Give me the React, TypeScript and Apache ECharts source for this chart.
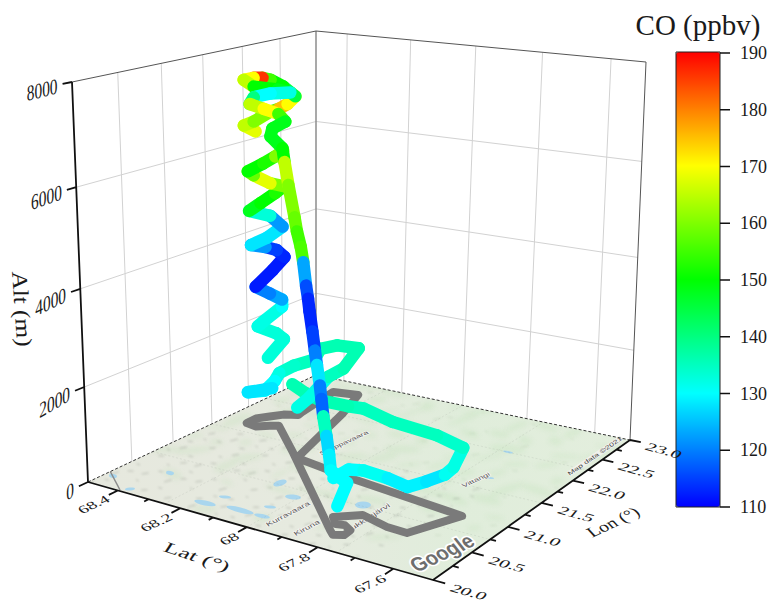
import React, { useEffect, useRef } from "react";
import * as echarts from "echarts";

// [lat, lon, alt m, CO ppbv]
const outboundLeg = [
  [67.866, 20.475, 788, 130], [67.84, 20.55, 941, 130], [67.814, 20.62, 904, 131], [67.73, 20.54, 972, 129],
  [67.674, 20.53, 910, 129], [67.655, 20.68, 915, 128], [67.637, 20.84, 936, 131], [67.628, 20.91, 1034, 132],
  [67.618, 20.99, 1372, 134], [67.696, 21.025, 1460, 135], [67.833, 21.086, 1458, 135], [67.926, 21.128, 1552, 135],
  [67.976, 21.15, 1503, 136], [68.073, 21.21, 1426, 136], [68.127, 21.24, 1481, 136], [68.174, 21.27, 1575, 136],
];
const northLeg = [
  [68.156, 21.26, 1104, 132], [68.178, 21.51, 1080, 132], [68.215, 21.94, 1166, 135], [68.246, 22.3, 1040, 136],
  [68.295, 22.75, 1120, 136], [68.36, 22.71, 1127, 136], [68.36, 22.46, 1224, 136], [68.355, 22.35, 1056, 135],
  [68.35, 22.04, 1156, 134], [68.384, 21.97, 983, 132], [68.4, 21.97, 778, 130], [68.394, 21.81, 687, 129],
  [68.42, 21.68, 709, 128], [68.35, 21.73, 868, 128],
];
const spiralLow = [
  [68.387, 21.825, 1435, 133], [68.35, 21.895, 1859, 133], [68.367, 21.863, 1992, 133], [68.409, 21.781, 2149, 132],
  [68.396, 21.806, 2260, 132], [68.354, 21.888, 2593, 130], [68.354, 21.889, 2748, 123], [68.381, 21.836, 2880, 120],
  [68.413, 21.775, 3031, 112], [68.374, 21.849, 3405, 112], [68.348, 21.899, 3690, 113], [68.365, 21.866, 3842, 115],
  [68.39, 21.818, 3907, 122], [68.422, 21.757, 3950, 128], [68.386, 21.826, 4114, 128], [68.352, 21.892, 4351, 122],
  [68.379, 21.839, 4586, 133], [68.425, 21.75, 4691, 148], [68.4, 21.799, 4860, 150], [68.368, 21.861, 5072, 152],
  [68.349, 21.898, 5220, 160], [68.378, 21.841, 5284, 168], [68.414, 21.772, 5452, 158], [68.427, 21.748, 5537, 150],
  [68.393, 21.813, 5706, 152], [68.367, 21.863, 5853, 160], [68.35, 21.896, 5979, 165],
];
const spiralHigh = [
  [68.409, 21.782, 6380, 168], [68.434, 21.734, 6504, 165], [68.413, 21.775, 6585, 160], [68.377, 21.844, 6790, 157],
  [68.359, 21.877, 6850, 175], [68.34, 21.914, 6950, 170], [68.323, 21.947, 7110, 145], [68.349, 21.898, 7310, 150],
  [68.376, 21.846, 7450, 155], [68.393, 21.813, 7490, 186], [68.412, 21.777, 7490, 170], [68.433, 21.736, 7450, 165],
  [68.412, 21.776, 7310, 150], [68.361, 21.874, 7250, 148], [68.334, 21.927, 7190, 132], [68.376, 21.845, 7170, 130],
  [68.412, 21.776, 7090, 140], [68.421, 21.759, 6950, 165], [68.391, 21.816, 6850, 170], [68.36, 21.877, 6745, 155],
  [68.345, 21.905, 6585, 148], [68.373, 21.852, 6440, 148], [68.377, 21.843, 6275, 148],
];
const descentLeg = [
  [68.3, 21.675, 6170, 150], [68.276, 21.6, 5940, 165], [68.236, 21.48, 5565, 160], [68.175, 21.3, 5055, 158],
  [68.15, 21.225, 4835, 155], [68.114, 21.12, 4620, 156], [68.089, 21.045, 4385, 123], [68.063, 20.97, 3990, 116],
  [68.043, 20.91, 3790, 113], [68.028, 20.865, 3585, 113], [68.002, 20.79, 3265, 115], [67.977, 20.715, 2970, 120],
  [67.957, 20.655, 2755, 128], [67.931, 20.58, 2445, 120], [67.916, 20.535, 2235, 118], [67.9, 20.49, 1950, 135],
  [67.87, 20.4, 1685, 127], [67.845, 20.325, 1420, 129], [67.83, 20.28, 1180, 130], [67.81, 20.3, 1060, 130],
  [67.8, 20.35, 925, 130], [67.835, 20.39, 360, 130],
];
// ground track, [lat, lon]
const groundTrack = [
  [67.838, 20.387], [67.866, 20.475], [67.814, 20.62], [67.73, 20.54], [67.674, 20.53], [67.618, 20.99],
  [67.976, 21.15], [68.156, 21.26], [68.246, 22.3], [68.295, 22.75], [68.37, 22.7], [68.347, 22.14], [68.342, 22.06],
  [68.378, 22.0], [68.401, 21.9], [68.424, 21.8], [68.423, 21.67], [68.385, 21.645], [68.358, 21.724], [68.337, 21.765],
  [68.185, 21.33], [67.83, 20.28], [67.81, 20.225], [67.787, 20.263], [67.79, 20.352], [67.817, 20.404], [67.838, 20.387],
];
const latMajor = [68.4, 68.2, 68, 67.8, 67.6];
const latMinor = [68.3, 68.1, 67.9, 67.7];
const latLabels = ["68.4", "68.2", "68", "67.8", "67.6"];
const lonMajor = [20, 20.5, 21, 21.5, 22, 22.5, 23];
const lonMinor = [20.25, 20.75, 21.25, 21.75, 22.25, 22.75];
const lonLabels = ["20.0", "20.5", "21.0", "21.5", "22.0", "22.5", "23.0"];
const altMajor = [0, 2000, 4000, 6000, 8000];
const coTicks = [110, 120, 130, 140, 150, 160, 170, 180, 190];
const coColors = ["#0000ff", "#00ffff", "#00ff00", "#ffff00", "#ff0000"];

type Pt = number[];
const makeH = (A: Pt, B: Pt, D: Pt, C: Pt) => {
  const dx1 = B[0] - C[0], dx2 = D[0] - C[0], sx = A[0] - B[0] + C[0] - D[0];
  const dy1 = B[1] - C[1], dy2 = D[1] - C[1], sy = A[1] - B[1] + C[1] - D[1];
  const den = dx1 * dy2 - dx2 * dy1;
  const g = (sx * dy2 - dx2 * sy) / den, h = (dx1 * sy - sx * dy1) / den;
  const ax = B[0] - A[0] + g * B[0], ay = B[1] - A[1] + g * B[1];
  const bx = D[0] - A[0] + h * D[0], by = D[1] - A[1] + h * D[1];
  return (s: number, t: number) => {
    const w = 1 + g * s + h * t;
    return [(A[0] + ax * s + bx * t) / w, (A[1] + ay * s + by * t) / w];
  };
};
const floorH = makeH([88, 482], [433, 580], [316, 375], [630, 440]);
const topH = makeH([72, 82], [438, 122], [316, 31], [646, 62]);
const PERSP = 0.066;
const project = (lat: number, lon: number, alt: number) => {
  const s = 68.5 - lat, t = (lon - 20) / 3;
  const f = floorH(s, t), g = topH(s, t), a = alt / 8000;
  const z = (a * (1 - PERSP)) / (1 - PERSP * a);
  return [f[0] + (g[0] - f[0]) * z, f[1] + (g[1] - f[1]) * z];
};
const GAP = [NaN, NaN];
const path = (...segs: Pt[][]) => segs.flatMap((seg, i) => (i ? [GAP, ...seg] : seg));
const lineSeries = (data: Pt[], color: string, width: number, z: number, type: any = "solid", cap: any = "butt") => ({
  type: "line", data, symbol: "none", silent: true, z, connectNulls: false,
  lineStyle: { color, width, type, cap, join: "round" },
});

const skew = (text: string, x: number, y: number, u: Pt, v: Pt, font: string, align: string, z = 20, extra: any = {}) => {
  const [a, b] = u, [c, d] = v;
  const E = (a + d) / 2, F = (a - d) / 2, G = (b + c) / 2, H = (b - c) / 2;
  const Q = Math.hypot(E, H), R = Math.hypot(F, G);
  const a1 = Math.atan2(G, F), a2 = Math.atan2(H, E);
  const theta = (a2 - a1) / 2, phi = (a2 + a1) / 2;
  return {
    type: "group", x, y, rotation: -phi,
    children: [{
      type: "group", scaleX: Q + R, scaleY: Q - R,
      children: [{
        type: "text", rotation: -theta, z, silent: true,
        style: { text, font, fill: "#1a1a1a", align, verticalAlign: "middle", ...extra },
      }],
    }],
  };
};
const SERIF = '"Liberation Serif"';
const SANS = '"Liberation Sans"';

// the map picture laid on the floor: [x, y, rx, ry, rotation]
const lakeSpots = [
  [170, 473, 4, 2, 0.2], [280, 483, 7, 3, -0.3], [293, 497, 8, 2.5, 0.1], [363, 505, 8, 3.5, 0], [205, 503, 11, 2.5, 0.2],
  [240, 510, 14, 2.5, 0.25], [113, 476, 4, 2, 0.2], [262, 516, 8, 2, 0.2], [130, 489, 5, 1.5, -0.1], [508, 452, 5, 1, 0.2],
  [490, 478, 4, 1, 0.1], [225, 497, 6, 1.5, 0.1], [270, 507, 6, 1.5, 0.1],
];
const mapTexture = () => {
  const c = document.createElement("canvas");
  c.width = 773; c.height = 603;
  const x = c.getContext("2d")!;
  const corners = [floorH(0, 0), floorH(1, 0), floorH(1, 1), floorH(0, 1)];
  x.beginPath();
  corners.forEach((p, i) => (i ? x.lineTo(p[0], p[1]) : x.moveTo(p[0], p[1])));
  x.closePath();
  x.clip();
  const g = x.createLinearGradient(100, 0, 620, 0);
  g.addColorStop(0, "#e6e8de"); g.addColorStop(0.4, "#e6eadf"); g.addColorStop(0.7, "#e0eddb"); g.addColorStop(1, "#e3eedd");
  x.fillStyle = g;
  x.fillRect(0, 0, 773, 603);
  const frac = (v: number) => v - Math.floor(v);
  x.filter = "blur(2.5px)";
  for (let i = 1; i < 110; i++) {
    const s = frac(i * 0.7548777), t = frac(i * 0.5698403);
    if (t < 0.25 && i % 3) continue;
    const p = floorH(s, t);
    x.save();
    x.translate(p[0], p[1]);
    x.rotate(frac(i * 0.381966) * 0.8 - 0.4);
    x.fillStyle = "rgba(175,220,165,0.2)";
    x.beginPath();
    x.ellipse(0, 0, 7 + 14 * frac(i * 0.2), 1.5 + 3 * frac(i * 0.37), 0, 0, 7);
    x.fill();
    x.restore();
  }
  x.filter = "blur(1px)";
  for (let i = 1; i < 320; i++) {
    const s = frac(i * 0.7548777 + 0.13), t = frac(i * 0.5698403 + 0.31);
    const dark = t < 0.5 && s < 0.85;
    if (!dark && i % 4) continue;
    const p = floorH(s, t);
    x.strokeStyle = dark ? "rgba(85,92,82,0.3)" : "rgba(130,170,125,0.22)";
    x.lineWidth = 1;
    const len = 1 + 3 * frac(i * 0.381966), ang = 0.9 * frac(i * 0.6180339) - 0.3;
    x.beginPath();
    x.moveTo(p[0] - len * Math.cos(ang), p[1] - len * Math.sin(ang));
    x.lineTo(p[0] + len * Math.cos(ang), p[1] + len * Math.sin(ang));
    x.stroke();
  }
  x.filter = "blur(0.5px)";
  x.fillStyle = "#a9d6ee";
  lakeSpots.forEach(([px, py, rx, ry, r]) => {
    x.beginPath();
    x.ellipse(px, py, rx, ry, r, 0, 7);
    x.fill();
  });
  x.filter = "none";
  x.strokeStyle = "rgba(120,130,120,0.13)";
  x.setLineDash([2, 2]);
  x.lineWidth = 1;
  [0.25, 0.5, 0.75].forEach((v) => {
    const a = floorH(v, 0), b = floorH(v, 1), m = floorH(0, v), n = floorH(1, v);
    x.beginPath();
    x.moveTo(a[0], a[1]); x.lineTo(b[0], b[1]);
    x.moveTo(m[0], m[1]); x.lineTo(n[0], n[1]);
    x.stroke();
  });
  x.setLineDash([]);
  x.strokeStyle = "#8a8a8a";
  x.lineWidth = 1.5;
  x.beginPath();
  x.moveTo(110, 471); x.lineTo(120, 490);
  x.stroke();
  return c.toDataURL("image/png");
};

export default function App() {
  const ref = useRef<HTMLDivElement>(null);
  useEffect(() => {
    document.body.style.margin = "0";
    const chart = echarts.init(ref.current!, undefined, { renderer: "svg" });
    const legs = [outboundLeg, northLeg, spiralLow, spiralHigh, descentLeg];
    const segments: number[][] = [];
    legs.forEach((leg, li) => {
      leg.forEach((r, i) => {
        const next = leg[i + 1] || (li === 3 ? descentLeg[0] : null);
        const a = project(r[0], r[1], r[2]);
        const b = next ? project(next[0], next[1], next[2]) : a;
        segments.push([a[0], a[1], b[0], b[1], r[3]]);
      });
    });

    const gridLines = path(
      ...lonMajor.slice(1, 6).map((l) => [project(68.5, l, 0), project(68.5, l, 8000)]),
      ...latMajor.map((l) => [project(l, 23, 0), project(l, 23, 8000)]),
      ...altMajor.slice(1, 4).map((a) => [project(68.5, 20, a), project(68.5, 23, a), project(67.5, 23, a)]),
    );
    const latTicks = path(
      ...latMajor.map((l) => [project(l, 20, 0), project(l, 19.9, 0)]),
      ...latMinor.map((l) => [project(l, 20, 0), project(l, 19.95, 0)]),
    );
    const lonTicks = path(
      ...lonMajor.map((l) => [project(67.5, l, 0), project(67.47, l, 0)]),
      ...lonMinor.map((l) => [project(67.5, l, 0), project(67.485, l, 0)]),
    );
    const altTicks = path(...altMajor.map((a) => [project(68.5, 20, a), project(68.5, 19.9, a)]));

    const yOf = (v: number) => 507 - ((v - 110) / 80) * 454;
    const halo = { fill: "#5a5a5a", stroke: "#f4f4f0", lineWidth: 2 };
    const graphic: any[] = [
      { type: "image", z: 1, silent: true, style: { image: mapTexture(), x: 0, y: 0, width: 773, height: 603 } },
      skew("Kurravaara", 288, 514, [0.86, -0.45], [0.4, 0.5], `10px ${SANS}`, "center", 1, halo),
      skew("Kiruna", 307, 528, [0.86, -0.45], [0.4, 0.5], `10px ${SANS}`, "center", 1, halo),
      skew("Jukkasjärvi", 368, 518, [0.86, -0.55], [0.4, 0.5], `10px ${SANS}`, "center", 1, halo),
      skew("Svappavaara", 344, 443, [0.9, -0.42], [0.4, 0.5], `9px ${SANS}`, "center", 1, halo),
      skew("Vittangi", 476, 480, [0.9, -0.42], [0.4, 0.5], `9px ${SANS}`, "center", 1, halo),
      skew("Map data ©2021", 595, 456, [0.8, -0.55], [0.4, 0.5], `9px ${SANS}`, "center", 1, { fill: "#444", backgroundColor: "#f0f1ec" }),
      skew("Google", 442, 553, [0.72, -0.34], [0.55, 0.7], `bold 24px ${SANS}`, "center", 1, { fill: "#6e6e6e", stroke: "#fff", lineWidth: 4 }),

      ...altMajor.map((a) => {
        const p = project(68.5, 19.9, a);
        return skew(String(a), p[0] - 5, p[1] + 2, [0.7, 0.7 * (-0.7 + (0.45 * a) / 8000)], [0, 1], `22px ${SERIF}`, "right");
      }),
      ...latMajor.map((l, i) => {
        const p = project(l, 19.88, 0);
        return skew(latLabels[i], p[0] + 1, p[1] + 2, [0.92, -0.42], [0.5, 0.5], `18px ${SERIF}`, "right");
      }),
      ...lonMajor.map((l, i) => {
        const p = project(67.46, l, 0);
        return skew(lonLabels[i], p[0] + 2, p[1] + 3, [1.1, 0.3], [-0.45, 0.55], `18px ${SERIF}`, "left");
      }),
      skew("Lat (°)", 197, 557, [1.1, 0.36], [-0.4, 0.6], `22px ${SERIF}`, "center"),
      skew("Lon (°)", 613, 522, [0.76, -0.36], [0.5, 0.55], `22px ${SERIF}`, "center"),
      skew("Alt (m)", 22, 309, [0.08, 1.1], [-0.95, 0], `23px ${SERIF}`, "center"),

      { type: "rect", z: 20, silent: true, shape: { x: 676, y: 52, width: 44, height: 455 }, style: { fill: "none", stroke: "#222", lineWidth: 1 } },
      ...coTicks.map((v) => ({
        type: "line", z: 20, silent: true, shape: { x1: 720, y1: yOf(v), x2: 730, y2: yOf(v) }, style: { stroke: "#111", lineWidth: 1.5 },
      })),
      ...coTicks.map((v) => ({
        type: "text", z: 20, silent: true, x: 740, y: yOf(v),
        style: { text: String(v), font: `18px ${SERIF}`, fill: "#1a1a1a", align: "left", verticalAlign: "middle" },
      })),
      {
        type: "text", z: 20, silent: true, x: 698, y: 25,
        style: { text: "CO (ppbv)", font: `29px ${SERIF}`, fill: "#1a1a1a", align: "center", verticalAlign: "middle" },
      },
    ];

    chart.setOption({
      animation: false,
      backgroundColor: "#fff",
      grid: { left: 0, top: 0, right: 0, bottom: 0 },
      xAxis: { type: "value", min: 0, max: 773, show: false },
      yAxis: { type: "value", min: 0, max: 603, inverse: true, show: false },
      visualMap: {
        type: "continuous", seriesIndex: 0, dimension: 4, min: 110, max: 190, left: 676, top: 52, itemWidth: 44, itemHeight: 455,
        padding: 0, calculable: false, showLabel: false, text: [], inRange: { color: coColors }, hoverLink: false,
      },
      series: [
        {
          type: "custom", z: 6, silent: true, clip: false, data: segments,
          encode: { x: 0, y: 1 },
          renderItem: (_: any, api: any) => {
            const a = api.coord([api.value(0), api.value(1)]);
            const b = api.coord([api.value(2), api.value(3)]);
            return {
              type: "line", shape: { x1: a[0], y1: a[1], x2: b[0], y2: b[1] },
              style: { stroke: api.visual("color"), lineWidth: 12.5, lineCap: "round", fill: null },
            };
          },
        },
        lineSeries(gridLines, "#d2d2d2", 1, 2),
        lineSeries(path([project(68.5, 23, 0), project(68.5, 23, 8000)]), "#8c8c8c", 1.5, 2),
        lineSeries(path([project(68.5, 20, 8000), project(68.5, 23, 8000), project(67.5, 23, 8000)], [project(67.5, 23, 0), project(67.5, 23, 8000)]), "#555", 1, 2),
        lineSeries(path([project(68.5, 20, 0), project(68.5, 23, 0), project(67.5, 23, 0)]), "#333", 1, 3, [3, 2]),
        lineSeries(groundTrack.map(([la, lo]) => project(la, lo, 0)), "#7a7a7a", 8, 4, "solid", "round"),
        lineSeries(path([project(68.5, 20, 0), project(68.5, 20, 8000)], [project(68.5, 20, 0), project(67.5, 20, 0), project(67.5, 23, 0)], latTicks, lonTicks, altTicks), "#111", 1.8, 5),
      ],
      graphic,
    });
    return () => chart.dispose();
  }, []);
  return <div ref={ref} style={{ width: 773, height: 603 }} />;
}
